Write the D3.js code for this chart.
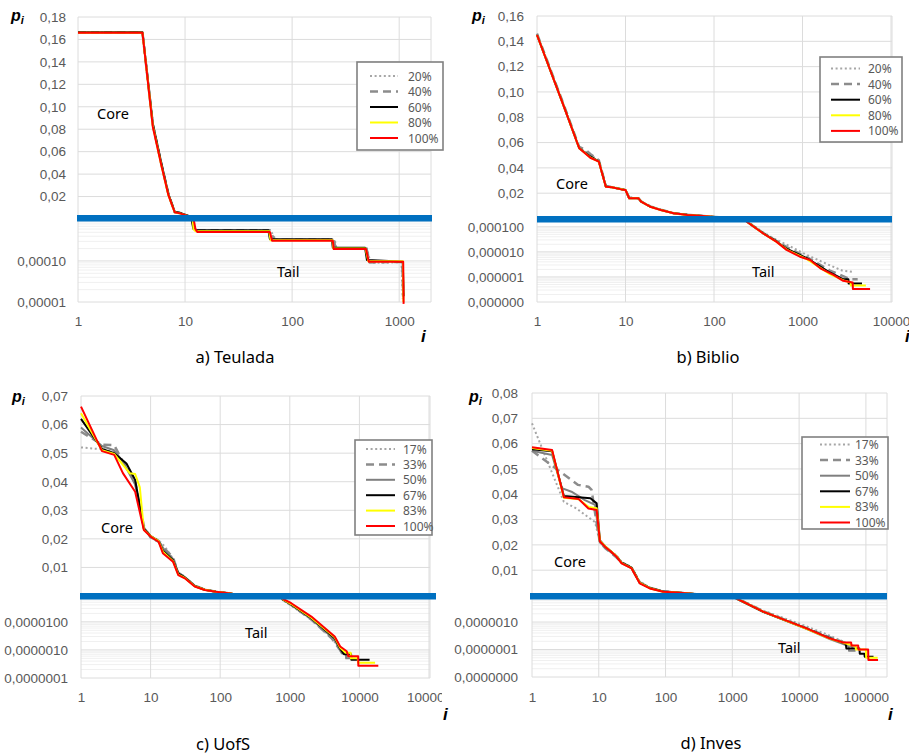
<!DOCTYPE html>
<html>
<body style="margin: 0; background: #fff">
  <script src="https://d3js.org/d3.v7.min.js"></script>

  <script>
    // series names
    const namesFive = ["20%", "40%", "60%", "80%", "100%"];
    const namesSix = ["17%", "33%", "50%", "67%", "83%", "100%"];

    // a) Teulada  -- [i, p] per series, in the order of the names
    const teuladaCore = [
      [[1, .1662], [4, .1662], [5, .084], [6, .049], [7, .022], [8, .006], [9, .0052], [11, .002]],
      [[1, .1662], [4, .1662], [5, .084], [6, .049], [7, .022], [8, .006], [9, .0052], [11, .002]],
      [[1, .1665], [4, .1665], [5, .085], [6, .05], [7, .022], [8, .0065], [9, .0055], [11, .0025]],
      [[1, .166], [4, .166], [5, .083], [6, .048], [7, .021], [8, .006], [9, .005], [11, .002]],
      [[1, .166], [4, .166], [5, .082], [6, .048], [7, .021], [8, .006], [9, .005], [11, .002]]
    ];
    const teuladaTail = [
      [[11, 2e-3], [12, 6e-4], [13, 5.5e-4], [63, 5.5e-4], [70, 3.3e-4], [250, 3.3e-4], [260, 2e-4], [500, 2e-4], [540, 9e-5], [700, 9e-5], [1050, 9.4e-5], [1080, 1.2e-5]],
      [[11, 2e-3], [12, 6e-4], [13, 5.6e-4], [62, 5.6e-4], [68, 3.3e-4], [245, 3.3e-4], [255, 2e-4], [495, 2e-4], [530, 9.2e-5], [800, 9.4e-5], [1070, 9.4e-5], [1090, 1.3e-5]],
      [[11, 2e-3], [12, 6e-4], [13, 5.6e-4], [60, 5.6e-4], [62, 3.4e-4], [235, 3.4e-4], [240, 2.1e-4], [480, 2.1e-4], [500, 1.05e-4], [800, 1e-4], [1080, 9.5e-5], [1100, 1.4e-5]],
      [[11.5, 2e-3], [12, 6e-4], [12.5, 5.3e-4], [61, 5.3e-4], [63, 3.2e-4], [238, 3.2e-4], [243, 2e-4], [485, 2e-4], [515, 9.8e-5], [1085, 9.8e-5], [1095, 1e-5]],
      [[11.5, 2e-3], [12.5, 6e-4], [13, 5.1e-4], [62, 5.1e-4], [65, 3.1e-4], [240, 3.1e-4], [245, 1.95e-4], [490, 1.95e-4], [520, 9.6e-5], [1090, 9.6e-5], [1100, 9e-6]]
    ];

    // b) Biblio
    const biblioCore = [
      [[1, .146], [2, .09], [3, .056], [4, .0505], [5, .0455], [6, .0255], [7, .0248], [9, .0232], [10, .0226], [11, .0165], [14, .016], [15, .0137], [19, .0097], [25, .007], [35, .0043], [50, .003], [75, .002], [120, .0008]],
      [[1, .146], [2, .09], [3, .0565], [3.5, .0545], [4, .051], [5, .046], [6, .0255], [7, .0248], [9, .0232], [10, .0226], [11, .0165], [14, .016], [15, .0136], [19, .0096], [25, .0069], [35, .0042], [50, .003], [75, .002], [120, .0008]],
      [[1, .145], [2, .089], [3, .0555], [4, .049], [5, .045], [6, .0252], [7, .0247], [9, .0231], [10, .0225], [11, .016], [14, .016], [15, .0134], [19, .0094], [25, .0068], [35, .0042], [50, .0029], [75, .002], [120, .0008]],
      [[1, .145], [2, .089], [3, .0555], [4, .0482], [5, .0449], [6, .0251], [7, .0247], [9, .0231], [10, .0225], [11, .016], [14, .016], [15, .0133], [19, .0093], [25, .0067], [35, .0041], [50, .0028], [75, .002], [120, .0008]],
      [[1, .145], [2, .089], [3, .0555], [4, .048], [5, .0449], [6, .0251], [7, .0247], [9, .023], [10, .0225], [11, .016], [14, .016], [15, .0133], [19, .0093], [25, .0067], [35, .0041], [50, .0028], [75, .002], [120, .0008]]
    ];
    const biblioTail = [
      [[200, 3e-4], [235, 1.7e-4], [360, 6e-5], [510, 3e-5], [670, 1.9e-5], [1130, 7.4e-6], [2040, 2.9e-6], [2800, 1.8e-6], [3700, 1.6e-6]],
      [[200, 3e-4], [235, 1.6e-4], [360, 5.6e-5], [510, 2.7e-5], [670, 1.5e-5], [1130, 6e-6], [2040, 1.8e-6], [3000, 1e-6], [3500, 8e-7], [4200, 8e-7]],
      [[200, 3e-4], [235, 1.6e-4], [360, 5.5e-5], [510, 2.6e-5], [670, 1.3e-5], [1130, 5.5e-6], [2040, 1.5e-6], [2900, 8e-7], [3300, 8e-7], [3320, 5.5e-7], [4700, 5.5e-7]],
      [[200, 3e-4], [235, 1.6e-4], [360, 5.4e-5], [510, 2.5e-5], [670, 1.2e-5], [1130, 5e-6], [2040, 1.3e-6], [3000, 7e-7], [3500, 6e-7], [3520, 4.5e-7], [5200, 4.5e-7]],
      [[200, 3e-4], [235, 1.58e-4], [360, 5.4e-5], [510, 2.5e-5], [660, 1.2e-5], [935, 6.4e-6], [1220, 4.7e-6], [1590, 2.2e-6], [2240, 1.2e-6], [2880, 7e-7], [3690, 6e-7], [3710, 3.3e-7], [5800, 3.3e-7]]
    ];

    // c) UofS
    const uofsCore = [
      [[1, .052], [1.7, .0515], [2, .0515], [3, .0505], [4, .047], [6, .04], [8, .024], [10, .021], [13, .0195], [16, .0173], [21, .013], [25, .0082], [31, .0067], [43, .0037], [60, .0023], [87, .0015], [150, .0008]],
      [[1, .0575], [2, .053], [3, .0528], [4, .047], [6, .04], [8, .0245], [10, .0205], [13, .019], [16, .0165], [21, .0135], [25, .008], [31, .0066], [43, .0036], [60, .0022], [87, .0015], [150, .0008]],
      [[1, .059], [2, .0525], [3, .051], [4, .047], [6, .039], [8, .024], [10, .0205], [13, .019], [16, .016], [21, .013], [25, .0082], [31, .0066], [43, .0036], [60, .0022], [87, .0015], [150, .0008]],
      [[1, .062], [2, .0515], [3, .05], [4.5, .0464], [6, .0406], [8, .0235], [10, .021], [13, .0193], [15, .0158], [21, .0125], [25, .0078], [31, .0065], [43, .0035], [60, .0022], [87, .0015], [150, .0008]],
      [[1, .064], [2, .051], [3, .0497], [5, .043], [6, .0427], [7, .038], [8, .0232], [10, .021], [13, .0192], [15, .0155], [21, .0122], [25, .0075], [31, .0063], [43, .0034], [60, .0022], [87, .0015], [150, .0008]],
      [[1, .0663], [2, .0507], [3, .0494], [4, .043], [6, .0365], [8, .0231], [10, .0208], [13, .019], [15, .015], [21, .012], [25, .0073], [31, .0062], [43, .0033], [60, .0021], [87, .0015], [150, .0008]]
    ];
    const uofsTail = [
      [[700, 1e-4], [800, 5.8e-5], [1050, 3.8e-5], [2040, 1.2e-5], [4000, 2.6e-6], [5000, 1.3e-6], [6200, 8e-7]],
      [[700, 1e-4], [800, 6e-5], [1050, 4e-5], [2040, 1.2e-5], [4000, 2.6e-6], [5000, 1.2e-6], [6000, 8e-7], [7000, 6e-7]],
      [[700, 1e-4], [800, 6e-5], [1050, 4e-5], [2040, 1.25e-5], [4420, 2.3e-6], [5000, 1.2e-6], [5600, 7.5e-7], [6400, 7.5e-7], [6450, 5e-7], [7800, 5e-7]],
      [[700, 1e-4], [800, 6.2e-5], [1050, 4.2e-5], [2040, 1.35e-5], [4420, 2.6e-6], [5300, 1.1e-6], [6000, 7e-7], [7600, 7e-7], [7650, 4.5e-7], [14000, 4.5e-7]],
      [[700, 1e-4], [800, 6.3e-5], [1050, 4.3e-5], [2040, 1.4e-5], [4420, 2.8e-6], [5300, 1.2e-6], [6300, 8e-7], [7500, 8e-7], [7550, 5e-7], [9500, 5e-7], [9550, 3.5e-7], [16800, 3.5e-7]],
      [[700, 1e-4], [800, 6.5e-5], [1050, 4.6e-5], [2040, 1.54e-5], [4420, 3e-6], [5300, 1.33e-6], [6570, 9e-7], [6950, 5.9e-7], [9600, 5.9e-7], [9650, 2.75e-7], [18700, 2.75e-7]]
    ];

    // d) Inves
    const invesCore = [
      [[1, .068], [3, .037], [4.6, .0344], [8.8, .029], [10.4, .021], [12.4, .019], [18.5, .0158], [22, .0132], [31, .0112], [41, .0055], [58, .0032], [92, .0017], [163, .0011], [300, .0005]],
      [[1, .0572], [2.1, .0509], [4.9, .0437], [7, .043], [7.8, .0417], [9.3, .0285], [10.4, .021], [12.4, .0188], [18.5, .015], [22, .013], [31, .0109], [41, .0052], [58, .003], [92, .0016], [163, .0011], [300, .0005]],
      [[1, .0572], [2, .0555], [2.8, .0424], [3.9, .041], [6.2, .0377], [8.8, .0358], [10.4, .021], [12.4, .019], [18.5, .0152], [22, .0128], [31, .0108], [41, .005], [58, .003], [92, .0016], [163, .0011], [300, .0005]],
      [[1, .0578], [2, .057], [3, .0393], [7.5, .0384], [9.3, .0364], [10.4, .0218], [12.4, .0195], [18.5, .0155], [22, .013], [31, .011], [41, .005], [58, .003], [92, .0016], [163, .0011], [300, .0005]],
      [[1, .0583], [2, .0572], [3, .0386], [5, .038], [7, .035], [9.3, .0345], [10.4, .0215], [12.4, .0195], [18.5, .0155], [22, .0128], [31, .0108], [41, .005], [58, .0029], [92, .0015], [163, .0011], [300, .0005]],
      [[1, .0586], [2, .0575], [3, .0388], [5, .0381], [7, .0344], [9.3, .0338], [10.4, .0213], [12.4, .0193], [15, .0175], [18.5, .0153], [22, .0127], [31, .0107], [41, .0048], [58, .0028], [92, .0015], [163, .0011], [300, .0005]]
    ];
    const invesTail = [
      [[1000, 1.2e-5], [1150, 7.6e-6], [2900, 2.6e-6], [12900, 7e-7], [28700, 3.2e-7], [45000, 2e-7], [60000, 1.3e-7]],
      [[1000, 1.2e-5], [1150, 7.4e-6], [2900, 2.5e-6], [12900, 6e-7], [28700, 2.8e-7], [50000, 1.7e-7], [65000, 1.2e-7]],
      [[1000, 1.2e-5], [1150, 7.2e-6], [2900, 2.35e-6], [12900, 5.7e-7], [28700, 2.4e-7], [45000, 1.6e-7], [55000, 1.3e-7], [56000, 9e-8], [70000, 9e-8]],
      [[1000, 1.2e-5], [1150, 7.2e-6], [2900, 2.35e-6], [12900, 5.8e-7], [28700, 2.6e-7], [50000, 1.6e-7], [51000, 1.1e-7], [80000, 1.1e-7], [81000, 7e-8], [95000, 7e-8], [96000, 5.5e-8], [130000, 5.5e-8]],
      [[1000, 1.2e-5], [1150, 7.3e-6], [2900, 2.4e-6], [12900, 5.7e-7], [28700, 2.5e-7], [45000, 1.8e-7], [70000, 1.3e-7], [71000, 1e-7], [100000, 1e-7], [101000, 5e-8], [150000, 5e-8]],
      [[1000, 1.2e-5], [1150, 7.3e-6], [2900, 2.4e-6], [12900, 5.9e-7], [28700, 2.55e-7], [45800, 1.8e-7], [60000, 1.8e-7], [61000, 1.4e-7], [76700, 1.4e-7], [77500, 1e-7], [108000, 1e-7], [109000, 4.2e-8], [152000, 4.2e-8]]
    ];

    // tick values
    const teuladaYTicks = [.02, .04, .06, .08, .10, .12, .14, .16, .18];
    const biblioYTicks = [.02, .04, .06, .08, .10, .12, .14, .16];
    const uofsYTicks = [.01, .02, .03, .04, .05, .06, .07];
    const invesYTicks = [.01, .02, .03, .04, .05, .06, .07, .08];
    const teuladaLogTicks = [1e-4, 1e-5];
    const biblioLogTicks = [1e-4, 1e-5, 1e-6, 1e-7];
    const uofsLogTicks = [1e-5, 1e-6, 1e-7];
    const invesLogTicks = [1e-6, 1e-7, 1e-8];
    const teuladaXTicks = [1, 10, 100, 1000];
    const biblioXTicks = [1, 10, 100, 1000, 10000];
    const uofsXTicks = [1, 10, 100, 1000, 10000, 100000];
    const invesXTicks = [1, 10, 100, 1000, 10000, 100000];

    const STYLES = {
      dot: {stroke: "#a6a6a6", width: 2, dash: "2,2.6"},
      dash: {stroke: "#8c8c8c", width: 2.5, dash: "8,5"},
      gray: {stroke: "#7f7f7f", width: 2, dash: null},
      black: {stroke: "#000000", width: 2, dash: null},
      yellow: {stroke: "#ffff00", width: 2, dash: null},
      red: {stroke: "#ff0000", width: 2, dash: null}
    };
    const FIVE = ["dot", "dash", "black", "yellow", "red"];
    const SIX = ["dot", "dash", "gray", "black", "yellow", "red"];

    const AXIS_FONT = "'Liberation Sans', Arial, sans-serif";
    const TEXT_FONT = "'Noto Sans', 'Open Sans', sans-serif";

    const panels = [
      {
        id: "a", names: namesFive, styles: FIVE, core: teuladaCore, tail: teuladaTail,
        left: 78, right: 430, top: 17, zeroY: 219, bottom: 302, tailTop: 221, barY: 218, barX0: 77, barX1: 432,
        xDomain: [1, 1940], coreMax: .18, yTicks: teuladaYTicks, tailDomain: [1e-5, 9.4e-4],
        logTicks: teuladaLogTicks, logDec: 5, xTicks: teuladaXTicks, yLabelX: 66, xLabelY: 329,
        legend: {x: 357, y: 62, w: 86, h: 88, row0: 76, step: 15.5, lx0: 370, lx1: 398, tx: 408},
        coreLabel: [97, 119], tailLabel: [277, 277], title: "a) Teulada", titleX: 235, titleY: 363,
        piX: 11, piY: 21, iX: 421, iY: 342, clipRight: 909
      },
      {
        id: "b", names: namesFive, styles: FIVE, core: biblioCore, tail: biblioTail,
        left: 537, right: 891, top: 16, zeroY: 218.5, bottom: 302, tailTop: 221, barY: 219, barX0: 537, barX1: 892,
        xDomain: [1, 10000], coreMax: .16, yTicks: biblioYTicks, tailDomain: [1e-7, 1.7e-4],
        logTicks: biblioLogTicks, logDec: 6, xTicks: biblioXTicks, yLabelX: 524, xLabelY: 329,
        legend: {x: 820, y: 57, w: 82, h: 85, row0: 68.5, step: 15.6, lx0: 831, lx1: 860, tx: 868},
        coreLabel: [556, 189], tailLabel: [752, 277], title: "b) Biblio", titleX: 708, titleY: 363,
        piX: 472, piY: 21, iX: 905, iY: 342, clipRight: 909
      },
      {
        id: "c", names: namesSix, styles: SIX, core: uofsCore, tail: uofsTail,
        left: 81, right: 429, top: 396, zeroY: 596, bottom: 678, tailTop: 599, barY: 596, barX0: 80, barX1: 436,
        xDomain: [1, 100000], coreMax: .07, yTicks: uofsYTicks, tailDomain: [1e-7, 6.5e-5],
        logTicks: uofsLogTicks, logDec: 7, xTicks: uofsXTicks, yLabelX: 68, xLabelY: 705,
        legend: {x: 355, y: 440, w: 77, h: 95, row0: 449, step: 15.4, lx0: 366, lx1: 395, tx: 403},
        coreLabel: [101, 533], tailLabel: [245, 638], title: "c) UofS", titleX: 223, titleY: 750,
        piX: 12, piY: 402, iX: 443, iY: 720, clipRight: 442
      },
      {
        id: "d", names: namesSix, styles: SIX, core: invesCore, tail: invesTail,
        left: 532, right: 886, top: 393, zeroY: 595.5, bottom: 677, tailTop: 599, barY: 596, barX0: 530, barX1: 887,
        xDomain: [1, 200000], coreMax: .08, yTicks: invesYTicks, tailDomain: [1e-8, 6.9e-6],
        logTicks: invesLogTicks, logDec: 7, xTicks: invesXTicks, yLabelX: 518, xLabelY: 705,
        legend: {x: 802, y: 437, w: 86, h: 92, row0: 444.5, step: 15.6, lx0: 820, lx1: 850, tx: 855},
        coreLabel: [554, 567], tailLabel: [778, 653], title: "d) Inves", titleX: 711, titleY: 749,
        piX: 469, piY: 402, iX: 888, iY: 720, clipRight: 909
      }
    ];

    const commaFormat = (dec) => (v) => d3.format("." + dec + "f")(v).replace(".", ",");

    const drawPanel = (svg, p) => {
      const x = d3.scaleLog().domain(p.xDomain).range([p.left, p.right]);
      const yCore = d3.scaleLinear().domain([0, p.coreMax]).range([p.zeroY, p.top]);
      const yTail = d3.scaleLog().domain(p.tailDomain).range([p.bottom, p.tailTop]);

      const g = svg.append("g");
      const gridRight = p.right + 1;

      // minor log gridlines
      const minors = [];
      const lo = Math.floor(Math.log10(p.tailDomain[0]));
      const hi = Math.ceil(Math.log10(p.tailDomain[1]));
      for (let e = lo; e < hi; e++) {
        for (let k = 2; k <= 9; k++) {
          const v = k * Math.pow(10, e);
          if (v > p.tailDomain[0] && v < p.tailDomain[1]) minors.push(v);
        }
      }
      g.selectAll(".minor").data(minors).enter().append("line")
        .attr("x1", p.left).attr("x2", gridRight)
        .attr("y1", (d) => {return yTail(d);}).attr("y2", (d) => {return yTail(d);})
        .style("stroke", "#f0f0f0").style("stroke-width", 1);

      g.selectAll(".hlog").data(p.logTicks).enter().append("line")
        .attr("x1", p.left).attr("x2", gridRight)
        .attr("y1", (d) => {return yTail(d);}).attr("y2", (d) => {return yTail(d);})
        .style("stroke", "#dcdcdc").style("stroke-width", 1);

      g.selectAll(".hlin").data(p.yTicks).enter().append("line")
        .attr("x1", p.left).attr("x2", gridRight)
        .attr("y1", (d) => {return yCore(d);}).attr("y2", (d) => {return yCore(d);})
        .style("stroke", "#dcdcdc").style("stroke-width", 1);

      // vertical gridlines, left and right borders
      const verts = p.xTicks.map((d) => x(d)).concat([gridRight]);
      g.selectAll(".vgrid").data(verts).enter().append("line")
        .attr("x1", (d) => {return d;}).attr("x2", (d) => {return d;})
        .attr("y1", p.top).attr("y2", p.bottom)
        .style("stroke", "#dcdcdc").style("stroke-width", 1);

      // clip regions
      const defs = svg.append("defs");
      defs.append("clipPath").attr("id", "core-" + p.id).append("rect")
        .attr("x", p.left - 2).attr("y", p.top - 4)
        .attr("width", p.right - p.left + 6).attr("height", p.barY - p.top + 4);
      defs.append("clipPath").attr("id", "tail-" + p.id).append("rect")
        .attr("x", p.left - 2).attr("y", p.barY)
        .attr("width", p.right - p.left + 6).attr("height", p.bottom - p.barY + 3);
      defs.append("clipPath").attr("id", "lab-" + p.id).append("rect")
        .attr("x", 0).attr("y", 0).attr("width", p.clipRight).attr("height", 755);

      const coreLine = d3.line().x((d) => x(d[0])).y((d) => yCore(d[1]));
      const tailLine = d3.line().x((d) => x(d[0])).y((d) => yTail(d[1]));

      const styleLine = (sel, s) => {
        sel.style("fill", "none")
          .style("stroke", s.stroke)
          .style("stroke-width", s.width)
          .style("stroke-linejoin", "round")
          .style("stroke-dasharray", s.dash);
      };

      const gc = svg.append("g").attr("clip-path", "url(#core-" + p.id + ")");
      const gt = svg.append("g").attr("clip-path", "url(#tail-" + p.id + ")");
      p.names.forEach((name, k) => {
        const s = STYLES[p.styles[k]];
        gc.append("path").attr("d", coreLine(p.core[k])).call(styleLine, s);
        gt.append("path").attr("d", tailLine(p.tail[k])).call(styleLine, s);
      });

      // separating bar
      svg.append("rect")
        .attr("x", p.barX0).attr("y", p.barY - 3)
        .attr("width", p.barX1 - p.barX0).attr("height", 6.5)
        .style("fill", "#0070c0");

      // axes: labels only
      const yAxisCore = d3.axisLeft(yCore).tickValues(p.yTicks).tickSize(0).tickPadding(0)
        .tickFormat(commaFormat(2));
      const yAxisTail = d3.axisLeft(yTail).tickValues(p.logTicks).tickSize(0).tickPadding(0)
        .tickFormat(commaFormat(p.logDec));
      const xAxis = d3.axisBottom(x).tickValues(p.xTicks).tickSize(0).tickPadding(0)
        .tickFormat(d3.format("d"));

      const styleAxis = (sel) => {
        sel.select(".domain").remove();
        sel.selectAll("text")
          .style("font-family", AXIS_FONT)
          .style("font-size", "13.5px")
          .style("fill", "#595959");
      };

      svg.append("g").attr("transform", "translate(" + p.yLabelX + ",0)").call(yAxisCore).call(styleAxis);
      svg.append("g").attr("transform", "translate(" + p.yLabelX + ",0)").call(yAxisTail).call(styleAxis);
      svg.append("g").attr("clip-path", "url(#lab-" + p.id + ")")
        .append("g").attr("transform", "translate(0," + (p.xLabelY - 13) + ")")
        .call(xAxis).call(styleAxis);

      // legend
      const L = p.legend;
      svg.append("rect")
        .attr("x", L.x).attr("y", L.y).attr("width", L.w).attr("height", L.h)
        .style("fill", "#fff").style("stroke", "#808080").style("stroke-width", 1.6);
      p.names.forEach((name, k) => {
        const s = STYLES[p.styles[k]];
        const yy = L.row0 + k * L.step;
        svg.append("line")
          .attr("x1", L.lx0).attr("x2", L.lx1).attr("y1", yy).attr("y2", yy)
          .call(styleLine, s);
        svg.append("text")
          .attr("x", L.tx).attr("y", yy + 4.5)
          .style("font-family", TEXT_FONT).style("font-size", "12px").style("fill", "#595959")
          .text(name);
      });

      // region labels and title
      const plain = (sel, size) => {
        sel.style("font-family", TEXT_FONT).style("font-size", size).style("fill", "#000");
      };
      svg.append("text").attr("x", p.coreLabel[0]).attr("y", p.coreLabel[1]).text("Core").call(plain, "14.5px");
      svg.append("text").attr("x", p.tailLabel[0]).attr("y", p.tailLabel[1]).text("Tail").call(plain, "14.5px");
      svg.append("text").attr("x", p.titleX).attr("y", p.titleY)
        .attr("text-anchor", "middle").text(p.title).call(plain, "16.5px");

      // axis names
      const pi = svg.append("text").attr("x", p.piX).attr("y", p.piY)
        .style("font-family", AXIS_FONT).style("font-weight", "bold").style("font-style", "italic")
        .style("font-size", "16px").style("fill", "#000");
      pi.append("tspan").text("p");
      pi.append("tspan").attr("dy", 3).style("font-size", "11px").text("i");
      svg.append("text").attr("x", p.iX).attr("y", p.iY)
        .style("font-family", AXIS_FONT).style("font-weight", "bold").style("font-style", "italic")
        .style("font-size", "17px").style("fill", "#000").text("i");
    };

    const start = () => {
      const svg = d3.select("body").append("svg")
        .attr("width", 909)
        .attr("height", 755)
        .style("display", "block");

      svg.append("rect").attr("width", 909).attr("height", 755).style("fill", "#fff");

      panels.forEach((p) => {
        drawPanel(svg, p);
      });
    };

    document.addEventListener("DOMContentLoaded", () => {
      start();
    }, false);
  </script>
</body>
</html>
